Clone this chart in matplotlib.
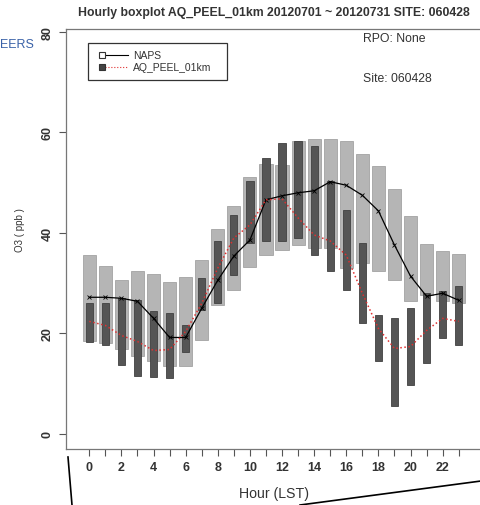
import matplotlib
matplotlib.use("Agg")
import matplotlib.pyplot as plt
from matplotlib.lines import Line2D
from matplotlib.patches import Rectangle

# ===================== data =====================
hours = list(range(24))

# NAPS (observations) - interquartile boxes and median line
naps_q3 = [35.6, 33.4, 30.6, 32.4, 31.8, 30.2, 31.2, 34.6, 40.8, 45.4, 51.2, 53.8,
           53.6, 58.4, 58.8, 58.8, 58.4, 55.8, 53.4, 48.8, 43.4, 37.8, 36.4, 35.8]
naps_q1 = [18.5, 18.0, 17.0, 15.5, 14.5, 13.5, 13.6, 18.6, 25.6, 28.6, 33.2, 35.6,
           36.6, 37.6, 37.0, 37.0, 33.0, 34.0, 32.4, 30.6, 26.4, 27.6, 26.4, 26.0]
naps_med = [27.2, 27.2, 27.0, 26.4, 23.0, 19.2, 19.2, 25.0, 30.6, 35.4, 38.6, 46.6,
            47.4, 48.0, 48.4, 50.2, 49.5, 47.5, 44.4, 37.6, 31.4, 27.4, 28.0, 26.6]

# AQ_PEEL_01km (model)
aq_q3 = [26.0, 26.0, 27.0, 26.6, 24.4, 24.0, 21.6, 31.0, 38.4, 43.6, 50.4, 55.0,
         58.0, 58.4, 57.4, 50.4, 44.6, 38.0, 23.6, 23.0, 25.0, 28.0, 28.4, 29.4]
aq_q1 = [18.2, 17.8, 13.8, 11.6, 11.4, 11.2, 16.4, 24.6, 26.0, 31.6, 38.0, 38.4,
         38.4, 39.0, 35.6, 32.4, 28.6, 22.0, 14.6, 5.6, 9.8, 14.2, 19.0, 17.8]
aq_med = [22.4, 21.6, 19.6, 18.4, 16.6, 16.8, 20.4, 26.0, 33.0, 39.0, 41.6, 46.6,
          46.8, 43.0, 39.6, 38.4, 35.6, 28.0, 21.0, 17.0, 17.4, 20.6, 23.0, 22.4]

yticks = [0, 20, 40, 60, 80]
series_names = ['NAPS', 'AQ_PEEL_01km']

# ===================== figure =====================
plt.rcParams['font.family'] = ['Liberation Sans', 'DejaVu Sans']
txt = '#333333'

fig = plt.figure(figsize=(4.81, 5.06), dpi=100)
ax = fig.add_axes([66/481, 56/506, 416/481, 420/506])

naps_h = [a - b for a, b in zip(naps_q3, naps_q1)]
aq_h = [a - b for a, b in zip(aq_q3, aq_q1)]

ax.bar(hours, naps_h, bottom=naps_q1, width=0.82, color='#b5b5b5',
       edgecolor='#a3a3a3', linewidth=0.6, zorder=2)
ax.bar(hours, aq_h, bottom=aq_q1, width=0.45, color='#555555',
       edgecolor='#404040', linewidth=0.6, zorder=3)

ax.plot(hours, naps_med, color='black', lw=0.9, marker='x', ms=2.5, mew=0.6, zorder=4)
ax.plot(hours, aq_med, color='#e03030', lw=1.1, ls=':', zorder=4)

ax.set_xlim(-1.45, 24.45)
ax.set_ylim(-3, 80.6)

ax.set_xticks(hours)
ax.set_xticklabels([str(h) if h % 2 == 0 else '' for h in hours],
                   fontsize=9, fontweight='bold', color=txt)
ax.set_yticks(yticks)
ax.set_yticklabels([str(v) for v in yticks], rotation=90, va='center',
                   fontsize=9, fontweight='bold', color=txt)
ax.tick_params(length=5, width=0.8, color='#555555', pad=4)

for s in ax.spines.values():
    s.set_color('#777777')
    s.set_linewidth(0.9)

fig.text(274/481, 1 - 494/506, 'Hour (LST)', fontsize=10.2, color=txt,
         ha='center', va='center')
fig.text(20/481, 1 - 230/506, 'O3 ( ppb )', fontsize=7, color=txt,
         ha='center', va='center', rotation=90)

fig.text(274/481, 1 - 13/506, 'Hourly boxplot AQ_PEEL_01km 20120701 ~ 20120731 SITE: 060428',
         ha='center', va='center', fontsize=8.8, fontweight='bold', color=txt)

ax.text(0.714, 0.979, 'RPO: None', transform=ax.transAxes, fontsize=8.8,
        color=txt, ha='left', va='center')
ax.text(0.714, 0.883, 'Site: 060428', transform=ax.transAxes, fontsize=8.8,
        color=txt, ha='left', va='center')

# R-style legend: marker at left end, line trailing to the right
ax.add_patch(Rectangle((0.0529, 0.8786), 0.334, 0.088, transform=ax.transAxes,
                       fill=False, edgecolor=txt, lw=0.9, zorder=5))
leg_y = [0.938, 0.9095]
leg_ls = ['-', ':']
leg_lc = ['black', '#e03030']
leg_mfc = ['white', '#444444']
for i, name in enumerate(series_names):
    ax.plot([0.0865, 0.149], [leg_y[i], leg_y[i]], transform=ax.transAxes,
            color=leg_lc[i], lw=0.8, ls=leg_ls[i], zorder=6)
    ax.plot([0.0865], [leg_y[i]], transform=ax.transAxes, marker='s', ms=4.5,
            mfc=leg_mfc[i], mec='#333333', mew=0.8, zorder=7)
    ax.text(0.161, leg_y[i], name, transform=ax.transAxes, fontsize=7.5,
            color=txt, ha='left', va='center', zorder=7)

# logo fragment and callout lines from the screenshot
fig.text(0, 1 - 45/506, 'EERS', fontsize=9, color='#3a62a8', ha='left', va='center')
fig.add_artist(Line2D([68/481, 72/481], [1 - 458/506, 0], color='black', lw=1.2))
fig.add_artist(Line2D([300/481, 1.0], [0, 1 - 482/506], color='black', lw=1.2))

fig.savefig('out.png', dpi=100)
